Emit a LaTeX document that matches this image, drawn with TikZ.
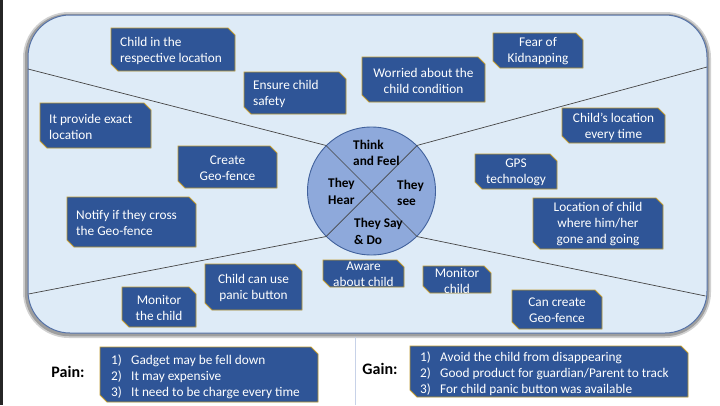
\documentclass[tikz,border=0pt]{standalone}
\usepackage{fontspec}
\setmainfont{Carlito}
\usetikzlibrary{calc}
\definecolor{bgblue}{HTML}{DEEBF7}
\definecolor{framecol}{HTML}{5673A8}
\definecolor{boxblue}{HTML}{2F5597}
\definecolor{boxgold}{HTML}{BF9A30}
\definecolor{circfill}{HTML}{8EA9DB}
\definecolor{circborder}{HTML}{41619C}
\definecolor{divcol}{HTML}{454545}
\definecolor{sepcol}{HTML}{C7D2E8}
\tikzset{
  boxshape/.style={fill=boxblue, draw=boxgold, line width=0.8pt},
  boxtxt/.style={text=white, font=\fontsize{13.3}{16}\selectfont, inner sep=0pt, yshift=-1pt},
  ctxt/.style={font=\bfseries\fontsize{13.3}{16.5}\selectfont, align=left, inner sep=0pt, anchor=west, text=black},
  divline/.style={draw=divcol, line width=0.7pt},
  lbl/.style={font=\bfseries\fontsize{16}{19}\selectfont, inner sep=0pt, text=black}
}
\newcommand\boxshapepath[4]{%
  \filldraw[boxshape] (#1,#2) -- ({#3-7},#2) -- (#3,{#2+7}) -- (#3,#4) -- ({#1+7},#4) -- (#1,{#4-7}) -- cycle;}
\newcommand\lbox[6]{% name x1 y1 x2 y2 text (left aligned)
  \boxshapepath{#2}{#3}{#4}{#5}
  \node[boxtxt, align=left, anchor=west] (#1) at ({#2+9},{(#3+#5)/2}) {#6};}
\newcommand\cbox[6]{% name x1 y1 x2 y2 text (centered)
  \boxshapepath{#2}{#3}{#4}{#5}
  \node[boxtxt, align=center] (#1) at ({(#2+#4)/2},{(#3+#5)/2}) {#6};}
\newcommand\numitem[2]{\makebox[20pt][l]{#1)}#2}
\begin{document}
\begin{tikzpicture}[x=1pt,y=-1pt]
\useasboundingbox (0,0) rectangle (720,405);
\fill[white] (0,0) rectangle (720,405);
\fill[black!85] (0,0) rectangle (3,405);
% frame with shadow
\draw[line width=8pt, black!18, rounded corners=42pt] (27,16) rectangle (707,334);
\draw[line width=4.5pt, black!38, rounded corners=42pt] (27,16) rectangle (707,334);
\filldraw[fill=bgblue, draw=framecol, line width=1pt, rounded corners=42pt] (28,15) rectangle (707,333);
% circle and dividers
\node[circle, draw=circborder, fill=circfill, line width=0.9pt, minimum size=128pt, inner sep=0pt] (c) at (371.5,191) {};
\coordinate (lt) at (28,69);
\coordinate (rt) at (707,67);
\coordinate (lb) at (28.5,294);
\coordinate (rb) at (705.5,296);
\draw[divline] (c.135) -- (lt);
\draw[divline] (c.45) -- (rt);
\draw[divline] (c.-135) -- (lb);
\draw[divline] (c.-45) -- (rb);
\draw[divline] (c.135) -- (c.-45);
\draw[divline] (c.45) -- (c.-135);
\node[ctxt] (tf) at (353,153) {Think\\and Feel};
\node[ctxt] (th) at (328,191.5) {They\\Hear};
\node[ctxt] (ts) at (397,193) {They\\see};
\node[ctxt] (tsd) at (354,231.5) {They Say\\\& Do};
% boxes
\lbox{b1}{111}{28}{235}{71}{Child in the\\respective location}
\lbox{b2}{244}{72}{346}{114}{Ensure child\\safety}
\lbox{b3}{40}{103}{151}{148}{It provide exact\\location}
\cbox{b4}{178}{146}{277}{188}{Create\\Geo-fence}
\lbox{b5}{67}{197}{196}{247}{Notify if they cross\\the Geo-fence}
\cbox{b6}{122}{287}{196}{327}{Monitor\\the child}
\cbox{b7}{205}{264}{302}{310}{Child can use\\panic button}
\cbox{b8}{323}{260}{404}{287}{Aware\\about child}
\cbox{b9}{423}{266}{491}{293}{Monitor\\child}
\cbox{b10}{512}{290}{602}{329}{Can create\\Geo-fence}
\cbox{b11}{533}{198}{663}{249}{Location of child\\where him/her\\gone and going}
\cbox{b12}{475}{154}{557}{189}{GPS\\technology}
\cbox{b13}{562}{108}{665}{143}{Child’s location\\every time}
\cbox{b14}{362}{57}{485}{102}{Worried about the\\child condition}
\cbox{b15}{493}{33}{583}{68}{Fear of\\Kidnapping}
% pain / gain
\draw[sepcol, line width=1.2pt] (355.5,337) -- (355.5,405);
\node[lbl] (pain) at (68,372) {Pain:};
\node[lbl] (gain) at (380,369) {Gain:};
\boxshapepath{100}{347}{318}{402}
\node[boxtxt, align=left, anchor=west] (pl) at (111,376) {\numitem{1}{Gadget may be fell down}\\\numitem{2}{It may expensive}\\\numitem{3}{It need to be charge every time}};
\boxshapepath{410}{346}{688}{397}
\node[boxtxt, align=left, anchor=west] (gl) at (420,372.5) {\numitem{1}{Avoid the child from disappearing}\\\numitem{2}{Good product for guardian/Parent to track}\\\numitem{3}{For child panic button was available}};
\end{tikzpicture}
\end{document}
